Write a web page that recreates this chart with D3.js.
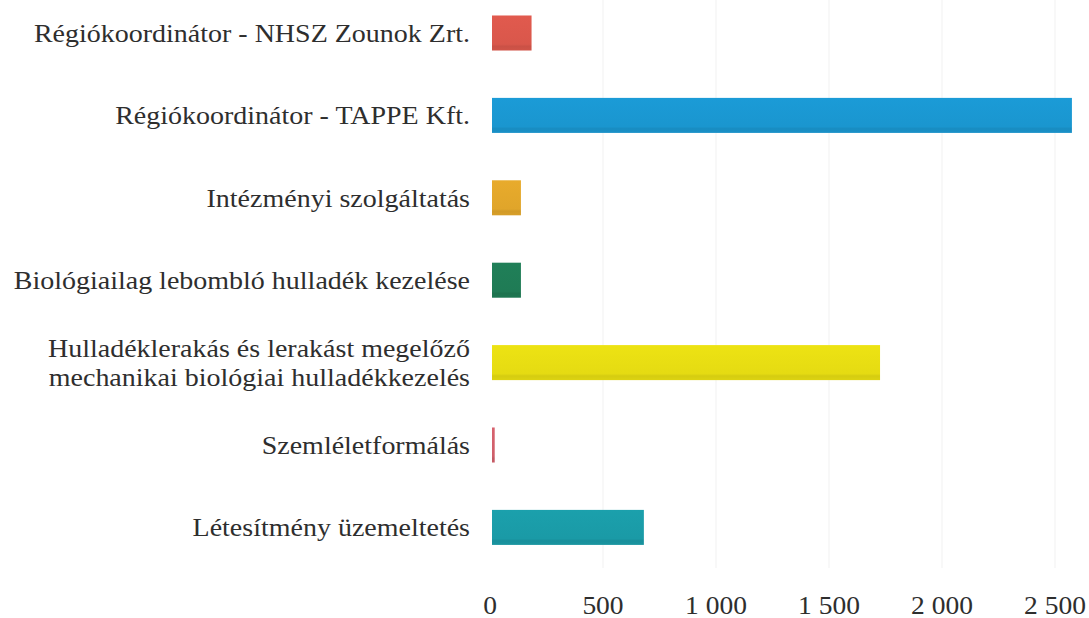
<!DOCTYPE html>
<html>
<head>
<meta charset="utf-8">
<script src="https://cdn.jsdelivr.net/npm/d3@7"></script>
<style>
html,body{margin:0;padding:0;background:#fff;}
svg{display:block;}
</style>
</head>
<body>
<svg id="chart" width="1089" height="618"></svg>
<script>
const categories = [
  ["Régiókoordinátor - NHSZ Zounok Zrt."],
  ["Régiókoordinátor - TAPPE Kft."],
  ["Intézményi szolgáltatás"],
  ["Biológiailag lebombló hulladék kezelése"],
  ["Hulladéklerakás és lerakást megelőző", "mechanikai biológiai hulladékkezelés"],
  ["Szemléletformálás"],
  ["Létesítmény üzemeltetés"]
];
const values = [175, 2566, 128, 128, 1717, 12, 672];
const colors = ["#d9574b", "#1a96cf", "#e0a52a", "#1f7b55", "#e5db12", "#cf5f6a", "#1a9aa6"];
const tickValues = [0, 500, 1000, 1500, 2000, 2500];
const tickLabels = ["0", "500", "1 000", "1 500", "2 000", "2 500"];

const FONT = '"Liberation Serif"';
const svg = d3.select("#chart");
const x = d3.scaleLinear().domain([0, 2500]).range([490, 1055]);
const y = d3.scaleBand().domain(d3.range(categories.length))
  .range([-8.2, 568.6]).paddingInner(0.575).paddingOuter(0.2875);

// gridlines
svg.append("g").selectAll("line").data(tickValues.slice(1)).join("line")
  .attr("x1", d => x(d)).attr("x2", d => x(d))
  .attr("y1", 0).attr("y2", 568)
  .attr("stroke", "#f3f3f3").attr("stroke-width", 1.2);

// gradients for slight bevel effect
const defs = svg.append("defs");
colors.forEach((c, i) => {
  const g = defs.append("linearGradient").attr("id", "g" + i)
    .attr("x1", 0).attr("x2", 0).attr("y1", 0).attr("y2", 1);
  const base = d3.color(c);
  g.append("stop").attr("offset", "0%").attr("stop-color", base.brighter(0.1));
  g.append("stop").attr("offset", "82%").attr("stop-color", c);
  g.append("stop").attr("offset", "88%").attr("stop-color", base.darker(0.2));
  g.append("stop").attr("offset", "100%").attr("stop-color", base.darker(0.1));
});

// bars
svg.append("g").selectAll("rect").data(values).join("rect")
  .attr("x", x(0) + 2)
  .attr("y", (d, i) => y(i))
  .attr("width", d => Math.max(2.5, x(d) - x(0)))
  .attr("height", y.bandwidth())
  .attr("fill", (d, i) => "url(#g" + i + ")");

// category labels (slightly stretched horizontally like the scanned original)
const LX = 470, SX = 1.12;
const lab = svg.append("g")
  .attr("transform", `translate(${LX},0) scale(${SX},1) translate(${-LX},0)`)
  .selectAll("text").data(categories).join("text")
  .attr("x", LX)
  .attr("text-anchor", "end")
  .style("font-family", FONT)
  .style("font-size", "25px")
  .attr("fill", "#2e2e2e");
lab.each(function(lines, i) {
  const cy = y(i) + y.bandwidth() / 2;
  const lh = 29;
  const t = d3.select(this);
  lines.forEach((l, k) => {
    t.append("tspan").attr("x", LX)
      .attr("y", cy + (k - (lines.length - 1) / 2) * lh)
      .attr("dy", "0.35em").text(l);
  });
});

// x axis labels
const ax = svg.append("g").attr("transform", "translate(0,605)")
  .call(d3.axisBottom(x).tickValues(tickValues).tickFormat((d, i) => tickLabels[i]).tickSize(0));
ax.select(".domain").remove();
ax.selectAll(".tick").each(function(d) {
  d3.select(this).attr("transform", `translate(${x(d)},0) scale(1.1,1)`);
});
ax.selectAll("text")
  .style("font-family", FONT).style("font-size", "25px")
  .attr("fill", "#2e2e2e").attr("dy", "0.35em").attr("y", 0);
</script>
</body>
</html>
